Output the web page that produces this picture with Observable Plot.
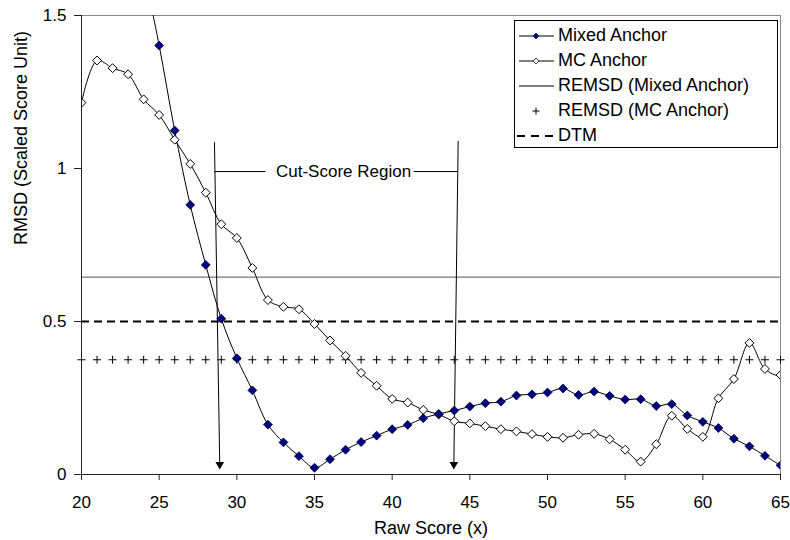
<!DOCTYPE html>
<html>
<head>
<meta charset="utf-8">
<script src="https://cdn.jsdelivr.net/npm/d3@7"></script>
<script src="https://cdn.jsdelivr.net/npm/@observablehq/plot@0.6"></script>
<style>
  body { margin: 0; background: #fff; }
  #wrap { position: relative; width: 790px; height: 540px; font-family: "Liberation Sans", Arial, sans-serif; }
  #legend {
    position: absolute; left: 514px; top: 20px; width: 262px; height: 124px;
    border: 1px solid #000; background: #fff; padding-top: 2px;
  }
  #legend .row { height: 25px; display: flex; align-items: center; font-size: 18px; color: #000; white-space: nowrap; }
  #legend svg { flex: none; margin-right: 3px; }
</style>
</head>
<body>
<div id="wrap">
  <div id="chart"></div>
  <div id="legend"></div>
</div>
<script>
// Raw scores and RMSD values (scaled score units) for the two anchor designs
const mixedX = [24, 25, 26, 27, 28, 29, 30, 31, 32, 33, 34, 35, 36, 37, 38, 39, 40, 41, 42, 43, 44,
                45, 46, 47, 48, 49, 50, 51, 52, 53, 54, 55, 56, 57, 58, 59, 60, 61, 62, 63, 64, 65];
const mixedRmsd = [1.65, 1.402, 1.124, 0.881, 0.685, 0.509, 0.380, 0.275, 0.163, 0.105, 0.060, 0.022,
                   0.050, 0.081, 0.106, 0.127, 0.148, 0.162, 0.184, 0.198, 0.209, 0.222, 0.233, 0.238,
                   0.258, 0.262, 0.268, 0.281, 0.260, 0.271, 0.257, 0.245, 0.246, 0.224, 0.230, 0.193,
                   0.172, 0.152, 0.117, 0.092, 0.061, 0.030];

const mcX = [20, 21, 22, 23, 24, 25, 26, 27, 28, 29, 30, 31, 32, 33, 34, 35, 36, 37, 38, 39, 40, 41, 42,
             43, 44, 45, 46, 47, 48, 49, 50, 51, 52, 53, 54, 55, 56, 57, 58, 59, 60, 61, 62, 63, 64, 65, 66];
const mcRmsd = [1.215, 1.353, 1.328, 1.308, 1.226, 1.175, 1.094, 1.015, 0.921, 0.818, 0.773, 0.675,
                0.570, 0.548, 0.540, 0.492, 0.438, 0.388, 0.332, 0.290, 0.247, 0.235, 0.211, 0.196,
                0.174, 0.167, 0.158, 0.148, 0.141, 0.132, 0.123, 0.120, 0.130, 0.133, 0.115, 0.081,
                0.042, 0.099, 0.192, 0.149, 0.123, 0.249, 0.312, 0.430, 0.345, 0.325, 0.42];

// Reference levels
const remsdMixed = 0.645;
const remsdMC = 0.375;
const dtm = 0.5;
const remsdMarkX = [20, 21, 22, 23, 24, 25, 26, 27, 28, 29, 30, 31, 32, 33, 34, 35, 36, 37, 38, 39, 40, 41, 42,
                    43, 44, 45, 46, 47, 48, 49, 50, 51, 52, 53, 54, 55, 56, 57, 58, 59, 60, 61, 62, 63, 64, 65];

// Axis ticks
const xTicks = [20, 25, 30, 35, 40, 45, 50, 55, 60, 65];
const yTicks = [0, 0.5, 1, 1.5];

// Cut-score region annotation (data coordinates)
const cutArrowTopX = [28.56, 44.25];
const cutArrowTopY = [1.086, 1.09];
const cutArrowTipX = [28.9, 43.97];
const cutArrowTipY = [0.033, 0.033];
const cutConnectorFrom = [28.56, 41.38];
const cutConnectorTo = [31.85, 44.25];
const cutLabelY = 0.99;
const cutLabelX = 36.87;
const cutLabelText = "Cut-Score Region";

const legendLabels = ["Mixed Anchor", "MC Anchor", "REMSD (Mixed Anchor)", "REMSD (MC Anchor)", "DTM"];

const mixed = mixedX.map((x, i) => ({x, y: mixedRmsd[i]}));
const mc = mcX.map((x, i) => ({x, y: mcRmsd[i]}));
const remsdMarks = remsdMarkX.map(x => ({x, y: remsdMC}));
const arrows = cutArrowTopX.map((x1, i) => ({x1, y1: cutArrowTopY[i], x2: cutArrowTipX[i], y2: cutArrowTipY[i]}));
const connectors = cutConnectorFrom.map((x1, i) => ({x1, x2: cutConnectorTo[i], y: cutLabelY}));

const chart = Plot.plot({
  width: 790,
  height: 540,
  marginLeft: 81,
  marginRight: 10,
  marginTop: 15,
  marginBottom: 66,
  style: {fontFamily: "'Liberation Sans', Arial, sans-serif", fontSize: "17px", color: "#000", background: "#fff", overflow: "visible"},
  x: {domain: [20, 65]},
  y: {domain: [0, 1.5]},
  marks: [
    Plot.frame({stroke: "#888"}),
    Plot.ruleY([remsdMixed], {stroke: "#555", strokeWidth: 1}),
    Plot.ruleY([dtm], {stroke: "#000", strokeWidth: 2, strokeDasharray: "8,5"}),
    Plot.dot(remsdMarks, {x: "x", y: "y", symbol: "plus", r: 2.7, stroke: "#000", strokeWidth: 1}),
    Plot.link(arrows, {x1: "x1", y1: "y1", x2: "x2", y2: "y2", stroke: "#000", strokeWidth: 1}),
    Plot.dot(arrows, {x: "x2", y: "y2", symbol: "triangle", rotate: 180, r: 3.2, fill: "#000", stroke: "none"}),
    Plot.link(connectors, {x1: "x1", x2: "x2", y1: "y", y2: "y", stroke: "#000", strokeWidth: 1}),
    Plot.text([cutLabelText], {x: cutLabelX, y: cutLabelY, fontSize: 17}),
    Plot.line(mc, {x: "x", y: "y", curve: "catmull-rom", stroke: "#000", strokeWidth: 1, clip: true}),
    Plot.line(mixed, {x: "x", y: "y", curve: "catmull-rom", stroke: "#000", strokeWidth: 1, clip: true}),
    Plot.dot(mc, {x: "x", y: "y", symbol: "diamond2", r: 4, fill: "#fff", stroke: "#000", strokeWidth: 1, clip: true}),
    Plot.dot(mixed, {x: "x", y: "y", symbol: "diamond2", r: 4, fill: "#000080", stroke: "#000030", strokeWidth: 0.8, clip: true}),
    Plot.ruleX([20], {stroke: "#222"}),
    Plot.ruleY([0], {stroke: "#222"}),
    Plot.axisX({ticks: xTicks, tickSize: 6, tickPadding: 15, label: null, fontSize: 17, stroke: "#222"}),
    Plot.axisY({ticks: yTicks, tickFormat: d => String(d), tickSize: 7, tickPadding: 8, label: null, fontSize: 17, stroke: "#222"}),
    Plot.text(["Raw Score (x)"], {frameAnchor: "bottom", dy: 54, lineAnchor: "middle", fontSize: 18}),
    Plot.text(["RMSD (Scaled Score Unit)"], {frameAnchor: "left", dx: -60, rotate: -90, lineAnchor: "middle", fontSize: 18})
  ]
});
document.getElementById("chart").appendChild(chart);

// Legend: one row per series, with a small swatch drawn in SVG
const legend = d3.select("#legend");
legendLabels.forEach((label, i) => {
  const row = legend.append("div").attr("class", "row");
  const svg = row.append("svg").attr("width", 40).attr("height", 20);
  if (i <= 2) {
    svg.append("line").attr("x1", 4).attr("x2", 39).attr("y1", 10).attr("y2", 10)
      .attr("stroke", i === 2 ? "#000" : "#000").attr("stroke-width", 1);
  }
  if (i === 0) {
    svg.append("path").attr("d", d3.symbol(d3.symbolDiamond2, 22)()).attr("transform", "translate(21,10)")
      .attr("fill", "#000080").attr("stroke", "#000030").attr("stroke-width", 0.6);
  }
  if (i === 1) {
    svg.append("path").attr("d", d3.symbol(d3.symbolDiamond2, 22)()).attr("transform", "translate(21,10)")
      .attr("fill", "#fff").attr("stroke", "#000").attr("stroke-width", 0.8);
  }
  if (i === 3) {
    svg.append("path").attr("d", d3.symbol(d3.symbolPlus, 18)()).attr("transform", "translate(21,10)")
      .attr("fill", "none").attr("stroke", "#000").attr("stroke-width", 1);
  }
  if (i === 4) {
    svg.append("line").attr("x1", 2).attr("x2", 38).attr("y1", 10).attr("y2", 10)
      .attr("stroke", "#000").attr("stroke-width", 2).attr("stroke-dasharray", "8,6");
  }
  row.append("span").text(label);
});
</script>
</body>
</html>
